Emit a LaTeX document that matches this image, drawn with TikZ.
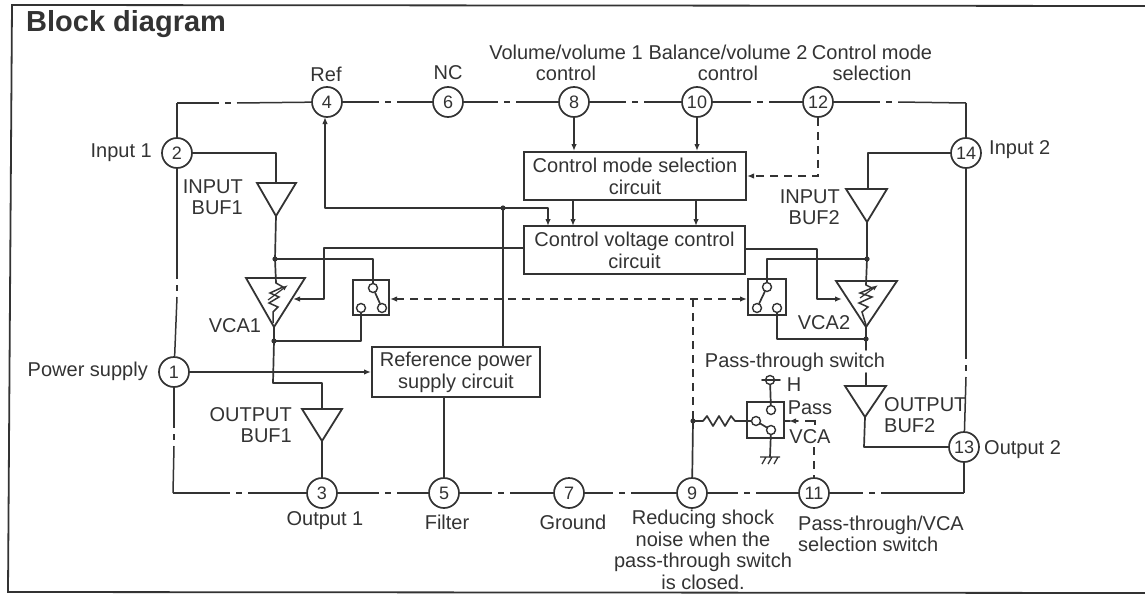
\documentclass[tikz,border=0pt]{standalone}
\usepackage{fontspec}
\setmainfont{Liberation Sans}
\usetikzlibrary{arrows.meta}
\definecolor{ink}{HTML}{333333}
\tikzset{
  x=1pt,y=-1pt,
  wire/.style={draw=ink,line width=1.7pt,line cap=round,line join=round},
  bus/.style={draw=ink,line width=1.5pt},
  dashwire/.style={draw=ink,line width=1.5pt,dash pattern=on 8pt off 6pt},
  arr/.style={-{Latex[length=7pt,width=5.5pt]}},
  pin/.style={circle,draw=ink,line width=1.7pt,fill=white,minimum size=30pt,inner sep=0pt,font=\fontsize{18}{18}\selectfont,text=ink},
  blockbox/.style={rectangle,draw=ink,line width=2pt,align=center,text=ink,inner sep=0pt,font=\fontsize{20}{22}\selectfont},
  lab/.style={text=ink,inner sep=0pt,align=center,font=\fontsize{20}{21.5}\selectfont},
  swbox/.style={rectangle,draw=ink,line width=2pt,inner sep=0pt},
  contact/.style={circle,draw=ink,line width=1.4pt,fill=white,minimum size=9pt,inner sep=0pt},
  tri/.style={draw=ink,line width=1.8pt,line join=miter,fill=white},
}
\begin{document}
\begin{tikzpicture}
\useasboundingbox (0,0) rectangle (1145,594);
% frame
\draw[draw=ink,line width=1.8pt] (1145,6) -- (12,5) -- (8,592) -- (1145,593);
\node[anchor=west,inner sep=0pt,text=ink,font=\fontsize{29}{29}\selectfont\bfseries] (title) at (26,24) {Block diagram};

% pins
\node[pin] (p2) at (177,153) {2};
\node[pin] (p4) at (327,102) {4};
\node[pin] (p6) at (448,102) {6};
\node[pin] (p8) at (574,102) {8};
\node[pin] (p10) at (697,102) {10};
\node[pin] (p12) at (818,102) {12};
\node[pin] (p14) at (966,153) {14};
\node[pin] (p1) at (174,372) {1};
\node[pin] (p3) at (322,493) {3};
\node[pin] (p5) at (444,493) {5};
\node[pin] (p7) at (569,493) {7};
\node[pin] (p9) at (692,493) {9};
\node[pin] (p11) at (814,493) {11};
\node[pin] (p13) at (964,447) {13};
\coordinate (cTL) at (177,103);
\coordinate (cTR) at (966,103);
\coordinate (cBL) at (173,493);
\coordinate (cBR) at (964,493);

% package outline: solid runs with a dash-dot break
\foreach \a/\b/\d in {cTL/p4/228,p4/p6/388,p6/p8/507,p8/p10/635,p10/p12/760,p12/cTR/889,cBL/p3/239,p3/p5/388,p5/p7/501,p7/p9/622,p9/p11/747,p11/cBR/872}{
  \path (\d-9,0) coordinate (G1) (\d-3,0) coordinate (G2) (\d+3,0) coordinate (G3) (\d+9,0) coordinate (G4);
  \draw[bus] (\a) -- (\a -| G1);
  \draw[bus] (\a -| G2) -- (\a -| G3);
  \draw[bus] (\a -| G4) -- (\b);
}
\foreach \a/\b/\d in {p2/p1/288,p1/cBL/437,p14/p13/368}{
  \path (0,\d-9) coordinate (G1) (0,\d-3) coordinate (G2) (0,\d+3) coordinate (G3) (0,\d+9) coordinate (G4);
  \draw[bus] (\a) -- (\a |- G1);
  \draw[bus] (\a |- G2) -- (\a |- G3);
  \draw[bus] (\a |- G4) -- (\b);
}
\draw[bus] (cTL) -- (p2);
\draw[bus] (cTR) -- (p14);
\draw[bus] (p13) -- (cBR);

% blocks
\node[blockbox,minimum width=222pt,minimum height=48pt] (mode) at (635,176) {Control mode selection\\circuit};
\node[blockbox,minimum width=221pt,minimum height=48pt] (volt) at (634.5,250) {Control voltage control\\circuit};
\node[blockbox,minimum width=168pt,minimum height=50pt] (ref) at (456,372) {Reference power\\supply circuit};

% switches
\node[swbox,minimum width=36pt,minimum height=35pt] (sw1) at (371,297.5) {};
\node[swbox,minimum width=38pt,minimum height=36pt] (sw2) at (767,297) {};
\node[swbox,minimum width=37pt,minimum height=36pt] (sw3) at (765,420) {};

% triangles
\coordinate (ib1a) at (257,183); \coordinate (ib1b) at (296,183); \coordinate (ib1c) at (276,216); \coordinate (ib1t) at (276,183);
\coordinate (v1a) at (246,278); \coordinate (v1b) at (305,278); \coordinate (v1c) at (274,327); \coordinate (v1t) at (276,283);
\coordinate (ob1a) at (302,409); \coordinate (ob1b) at (342,409); \coordinate (ob1c) at (322,441); \coordinate (ob1t) at (322,409);
\coordinate (ib2a) at (846,189); \coordinate (ib2b) at (887,189); \coordinate (ib2c) at (867,222); \coordinate (ib2t) at (868,189);
\coordinate (v2a) at (836,281); \coordinate (v2b) at (897,281); \coordinate (v2c) at (866,327); \coordinate (v2t) at (866,285);
\coordinate (ob2a) at (845,386); \coordinate (ob2b) at (886,386); \coordinate (ob2c) at (865,417); \coordinate (ob2t) at (866,386);

% junctions and bends
\coordinate (j1) at (275,259);
\coordinate (j2) at (274,341);
\coordinate (j3) at (503,208);
\coordinate (j4) at (867,259);
\coordinate (j5) at (866,339);
\coordinate (j6) at (693,299);
\coordinate (j7) at (693,421);

% input 1 path
\draw[wire] (p2) -- (p2 -| ib1t) -- (ib1t);
\draw[wire] (ib1c) -- (j1) -- (v1t);
\draw[wire] (v1c) -- (j2) -- (273,383) -- (322,383) -- (ob1t);
\draw[wire] (ob1c) -- (p3);
% switch 1
\node[contact] (c1t) at (373,288) {};
\node[contact] (c1l) at (361,308) {};
\node[contact] (c1r) at (382,308) {};
\draw[wire] (j1) -- (j1 -| c1t) -- (c1t);
\draw[wire] (j2) -- (j2 -| c1l) -- (c1l);
\draw[wire] (c1t) -- (c1r);
% control to VCA1
\draw[wire,arr] (volt.west |- 0,248) -- (324,248) -- (324,299) -- (293,299);
% pin 4 / ref
\draw[wire,arr] (j3) -- (325,208) -- (325,117);
\draw[wire,arr] (j3) -- (548,208) -- (548,226);
\draw[wire] (j3) -- (j3 |- ref.north);
\draw[wire,arr] (p1) -- (ref.west |- p1);
\draw[wire] (ref.south -| p5) -- (p5);
% control pins
\draw[wire,arr] (p8) -- (p8 |- mode.north);
\draw[wire,arr] (p10) -- (p10 |- mode.north);
\draw[dashwire,arr] (p12) -- (818,176) -- (mode.east |- 0,176);
\draw[wire,arr] (573,200) -- (573,226);
\draw[wire,arr] (696,200) -- (696,226);
% control to VCA2
\draw[wire,arr] (volt.east |- 0,249) -- (817,249) -- (817,299) -- (842,299);
% input 2 path
\draw[wire] (p14) -- (p14 -| ib2t) -- (ib2t);
\draw[wire] (ib2c) -- (j4) -- (v2t);
\node[contact] (c2t) at (767,287) {};
\node[contact] (c2l) at (757,308) {};
\node[contact] (c2r) at (777,308) {};
\draw[wire] (j4) -- (767,259) -- (c2t);
\draw[wire] (c2t) -- (c2l);
\draw[wire] (c2r) -- (777,339) -- (j5);
\draw[wire] (v2c) -- (j5) -- (866,350);
\draw[wire] (866,373) -- (ob2t);
\draw[wire] (ob2c) -- (864,447) -- (p13);
% dashed control bus
\draw[dashwire,{Latex[length=7pt,width=5.5pt]}-{Latex[length=7pt,width=5.5pt]}] (sw1.east |- 0,299) -- (sw2.west |- 0,299);
\draw[dashwire] (j6) -- (j7);
\draw[wire] (j7) -- (p9);
% pass-through switch
\draw[wire] (j7) -- (703,421) -- (707,416) -- (713,426) -- (719,416) -- (725,426) -- (731,416) -- (735,421) -- (sw3.west |- j7) -- (752,421);
\node[contact] (c3t) at (771,410) {};
\node[contact] (c3l) at (756,421) {};
\node[contact] (c3r) at (771,430) {};
\draw[wire] (c3l) -- (c3r);
\node[contact] (c3h) at (770,380) {};
\draw[wire] (c3t) -- (c3h);
\draw[wire] (762,380) -- (780,380);
\coordinate (gnd) at (770,457);
\draw[wire] (c3r) -- (gnd);
\draw[draw=ink,line width=1.3pt] (760,457) -- (780,457) (766,457) -- (762,464) (772,457) -- (768,464) (778,457) -- (774,464);
% triangles on top
\draw[tri] (ib1a) -- (ib1b) -- (ib1c) -- cycle;
\draw[tri] (ob1a) -- (ob1b) -- (ob1c) -- cycle;
\draw[tri] (ib2a) -- (ib2b) -- (ib2c) -- cycle;
\draw[tri] (ob2a) -- (ob2b) -- (ob2c) -- cycle;
\draw[tri,fill=none] (v1a) -- (v1b) -- (v1c) -- cycle;
\draw[tri,fill=none] (v2a) -- (v2b) -- (v2c) -- cycle;
% variable resistors
\draw[draw=ink,line width=1.5pt,line join=miter] (v1t) -- (283,287) -- (270,293) -- (279,297) -- (269,303) -- (278,307) -- (273,312) -- (273,323);
\draw[draw=ink,line width=1.2pt,-{Latex[length=6pt,width=4.5pt]}] (268,300) -- (288,285);
\draw[draw=ink,line width=1.5pt,line join=miter] (v2t) -- (872,288) -- (860,293) -- (872,297) -- (859,303) -- (868,307) -- (862,312) -- (866,325);
\draw[draw=ink,line width=1.2pt,-{Latex[length=6pt,width=4.5pt]}] (860,298) -- (878,285);
% junction dots
\foreach \j in {j1,j2,j3,j4,j5,j7}{\fill[ink] (\j) circle (2.6pt);}
% arrow from pin 11 to sw3
\draw[wire] (790,421) -- (sw3.east |- 0,421);
\draw[wire,arr] (798,421) -- (789,421);
\draw[draw=ink,line width=1.4pt] (805,421) -- (815,421) -- (815,425);
\draw[dashwire] (814,447) -- (p11);

% labels
\node[lab] (lRef) at (326,74) {Ref};
\node[lab] (lNC) at (448,73) {NC};
\node[lab] (lV) at (566,63) {Volume/volume 1\\control};
\node[lab] (lB) at (728,63) {Balance/volume 2\\control};
\node[lab] (lC) at (872,63) {Control mode\\selection};
\node[lab,anchor=east] (lI1) at (152,153) {Input 1};
\node[lab,anchor=west] (lI2) at (989,150) {Input 2};
\node[lab,anchor=east] (lP) at (148,371) {Power supply};
\node[lab,anchor=east,align=right] (lIB1) at (243,197) {INPUT\\BUF1};
\node[lab,anchor=east,align=right] (lIB2) at (840,207) {INPUT\\BUF2};
\node[lab,anchor=east,align=right] (lOB1) at (292,425) {OUTPUT\\BUF1};
\node[lab,anchor=west,align=left] (lOB2) at (884,415) {OUTPUT\\BUF2};
\node[lab] (lV1) at (235,326) {VCA1};
\node[lab] (lV2) at (824,323) {VCA2};
\node[lab] (lPT) at (795,362) {Pass-through switch};
\node[lab] (lH) at (794,385) {H};
\node[lab] (lPa) at (810,408) {Pass};
\node[lab] (lVC) at (810,437) {VCA};
\node[lab] (lO1) at (325,521) {Output 1};
\node[lab] (lF) at (447,522) {Filter};
\node[lab] (lG) at (573,522) {Ground};
\node[lab] (lR) at (703,550) {Reducing shock\\noise when the\\pass-through switch\\is closed.};
\node[lab,anchor=west,align=left] (lPV) at (798,534) {Pass-through/VCA\\selection switch};
\node[lab,anchor=west] (lO2) at (984,450) {Output 2};
\end{tikzpicture}
\end{document}
